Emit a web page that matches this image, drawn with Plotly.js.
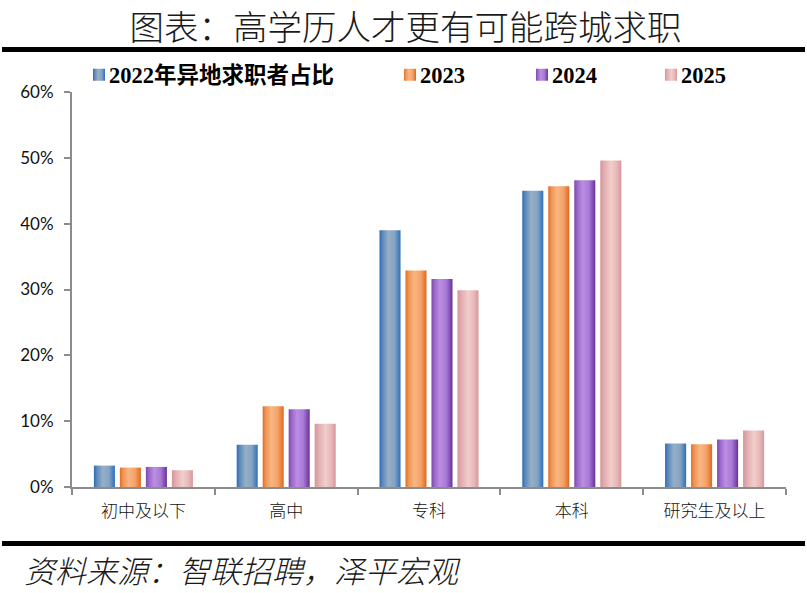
<!DOCTYPE html>
<html>
<head>
<meta charset="utf-8">
<script src="https://cdn.plot.ly/plotly-3.0.1.min.js"></script>
<style>
html,body{margin:0;padding:0;background:#fff;}
#chart{width:807px;height:593px;}
</style>
</head>
<body>
<div id="chart"></div>
<script>
// ---- data ----
var categories = ["初中及以下", "高中", "专科", "本科", "研究生及以上"];
var seriesNames = ["2022年异地求职者占比", "2023", "2024", "2025"];
var values2022 = [3.25, 6.4, 39.0, 45.0, 6.6];
var values2023 = [2.95, 12.25, 32.9, 45.7, 6.5];
var values2024 = [3.05, 11.8, 31.6, 46.6, 7.2];
var values2025 = [2.55, 9.6, 29.9, 49.6, 8.6];
var yTickVals = [0, 10, 20, 30, 40, 50, 60];
var yTickText = ["0%", "10%", "20%", "30%", "40%", "50%", "60%"];

var baseColors = ["#6f93bf", "#f09550", "#9d68cb", "#e6b3b4"];
var gradStops = [
  [[0, "#2a6ab4"], [0.14, "#5d88bb"], [0.42, "#95afc7"], [0.72, "#86a3c2"], [1, "#2c70bb"]],
  [[0, "#e06c22"], [0.14, "#ee9352"], [0.42, "#f9b682"], [0.72, "#f4a268"], [1, "#de6920"]],
  [[0, "#7d47ad"], [0.14, "#9a66c8"], [0.40, "#bb8ee3"], [0.70, "#a979d6"], [1, "#67329a"]],
  [[0, "#d5959a"], [0.20, "#e2afb1"], [0.52, "#f2cdcc"], [0.80, "#e6b6b7"], [1, "#d6979a"]]
];

var allValues = [values2022, values2023, values2024, values2025];
var legendIds = ["legend", "legend2", "legend3", "legend4"];

var traces = allValues.map(function (vals, i) {
  return {
    type: "bar",
    name: seriesNames[i],
    x: categories,
    y: vals,
    marker: { color: baseColors[i], line: { width: 0 } },
    legend: legendIds[i],
    hoverinfo: "skip"
  };
});

var legendFont = { family: "Liberation Serif, Noto Sans CJK SC, serif", size: 22.5, color: "#000", weight: "bold" };
function legendAt(xPaper) {
  return {
    x: xPaper, xanchor: "left",
    y: 1.043, yanchor: "middle",
    orientation: "h",
    bgcolor: "rgba(0,0,0,0)",
    borderwidth: 0,
    font: legendFont
  };
}

var layout = {
  width: 807,
  height: 593,
  paper_bgcolor: "#ffffff",
  plot_bgcolor: "#ffffff",
  margin: { l: 72, r: 21, t: 92, b: 106, pad: 0 },
  title: {
    text: "图表：高学历人才更有可能跨城求职",
    x: 0.5025, xanchor: "center", xref: "container",
    y: 0.9536, yanchor: "middle", yref: "container",
    font: { family: "Noto Sans CJK SC", size: 34.5, color: "#1a1a1a", weight: 300 }
  },
  barmode: "group",
  bargap: 0.272,
  bargroupgap: 0.19,
  showlegend: true,
  legend: legendAt(-0.0042),
  legend2: legendAt(0.4314),
  legend3: legendAt(0.6162),
  legend4: legendAt(0.7969),
  xaxis: {
    type: "category",
    showline: true, linecolor: "#8c8c8c", linewidth: 2,
    ticks: "outside", tickson: "boundaries", ticklen: 6, tickwidth: 2, tickcolor: "#8c8c8c",
    ticklabelstandoff: 8,
    tickfont: { family: "Noto Sans CJK SC", size: 17, color: "#111", weight: 300 },
    showgrid: false, zeroline: false, fixedrange: true
  },
  yaxis: {
    range: [0, 60],
    tickmode: "array", tickvals: yTickVals, ticktext: yTickText,
    showline: true, linecolor: "#8c8c8c", linewidth: 2,
    ticks: "outside", ticklen: 6, tickwidth: 2, tickcolor: "#8c8c8c",
    ticklabelstandoff: 7,
    tickfont: { family: "Lato, Open Sans, sans-serif", size: 17, color: "#111" },
    showgrid: false, zeroline: false, fixedrange: true
  },
  shapes: [
    { type: "line", xref: "paper", yref: "paper", x0: -0.098, x1: 1.0266, y0: 1.1076, y1: 1.1076,
      line: { color: "#000", width: 5 } },
    { type: "line", xref: "paper", yref: "paper", x0: -0.098, x1: 1.0266, y0: -0.143, y1: -0.143,
      line: { color: "#000", width: 5 } }
  ],
  annotations: [
    { text: "资料来源：智联招聘，泽平宏观", xref: "paper", yref: "paper",
      x: -0.0700, xanchor: "left", y: -0.2076, yanchor: "middle", showarrow: false,
      font: { family: "Noto Sans CJK SC", size: 31, color: "#1a1a1a", style: "italic", weight: 300 } }
  ],
  hovermode: false
};

Plotly.newPlot("chart", traces, layout, { displayModeBar: false, staticPlot: true }).then(function (gd) {
  var svgNS = "http://www.w3.org/2000/svg";
  var svg = gd.querySelector("svg.main-svg");
  var defs = svg.querySelector("defs") || svg.insertBefore(document.createElementNS(svgNS, "defs"), svg.firstChild);
  gradStops.forEach(function (stops, i) {
    var g = document.createElementNS(svgNS, "linearGradient");
    g.setAttribute("id", "bargrad" + i);
    g.setAttribute("x1", "0"); g.setAttribute("y1", "0");
    g.setAttribute("x2", "1"); g.setAttribute("y2", "0");
    stops.forEach(function (s) {
      var st = document.createElementNS(svgNS, "stop");
      st.setAttribute("offset", s[0]);
      st.setAttribute("stop-color", s[1]);
      g.appendChild(st);
    });
    defs.appendChild(g);
  });
  // bars
  gd.querySelectorAll(".barlayer .trace").forEach(function (el) {
    var cd = el.__data__;
    if (!cd || !cd[0]) return;
    var idx = cd[0].trace.index;
    el.querySelectorAll("path").forEach(function (p) { p.style.fill = "url(#bargrad" + idx + ")"; });
  });
  // legend symbols
  gd.querySelectorAll(".infolayer .traces").forEach(function (el) {
    var d = el.__data__;
    if (!d || !d[0]) return;
    var idx = d[0].trace.index;
    var layers = el.querySelector(".layers");
    if (layers) layers.setAttribute("transform", "translate(10,0)");
    el.querySelectorAll(".legendpoints path").forEach(function (p) { p.style.fill = "url(#bargrad" + idx + ")"; });
  });
});
</script>
</body>
</html>
